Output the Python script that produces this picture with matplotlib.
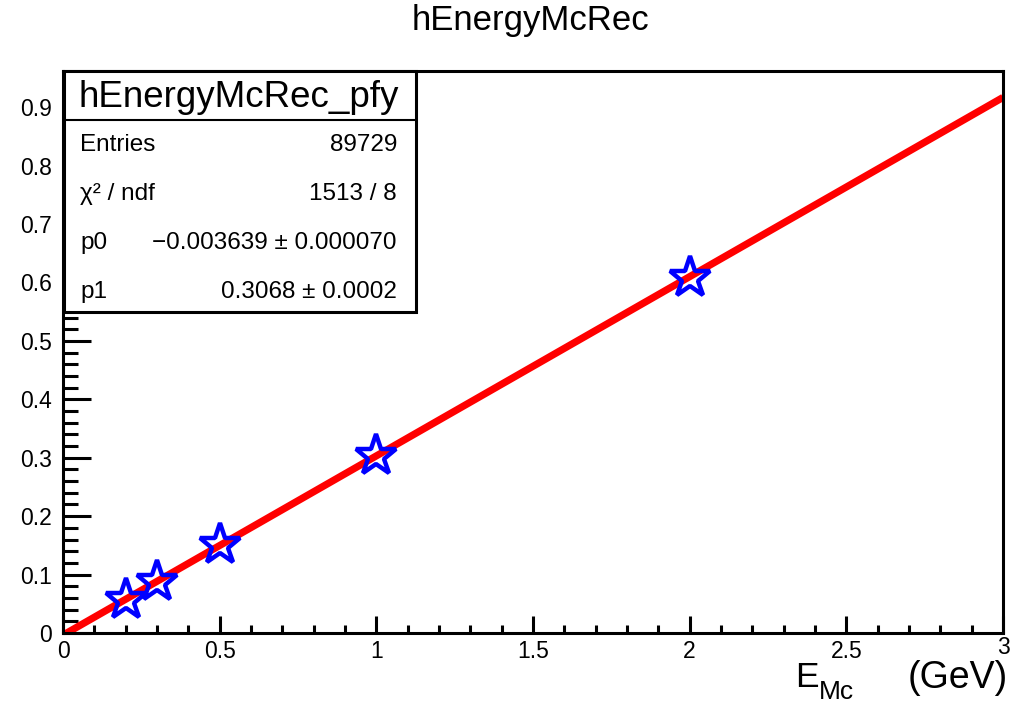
import matplotlib
matplotlib.use("Agg")
import matplotlib.pyplot as plt
import matplotlib.transforms as mtransforms
from matplotlib.patches import Rectangle
from matplotlib.ticker import FixedLocator, MultipleLocator
import numpy as np

plt.rcParams['font.family'] = ['Liberation Sans', 'DejaVu Sans']

# Profile points: true energy vs mean reconstructed energy
e_mc = [0.2, 0.3, 0.5, 1.0, 2.0]
e_rec = [0.057, 0.087, 0.150, 0.303, 0.608]

# Linear fit parameters
p0, p0_err = -0.003639, 0.000070
p1, p1_err = 0.3068, 0.0002
entries = 89729
chi2, ndf = 1513, 8

x_ticks = [0, 0.5, 1, 1.5, 2, 2.5, 3]
x_tick_labels = ["0", "0.5", "1", "1.5", "2", "2.5", "3"]
y_ticks = [0, 0.1, 0.2, 0.3, 0.4, 0.5, 0.6, 0.7, 0.8, 0.9]
y_tick_labels = ["0", "0.1", "0.2", "0.3", "0.4", "0.5", "0.6", "0.7", "0.8", "0.9"]

W, H = 1030, 705
fig = plt.figure(figsize=(W / 100, H / 100), dpi=100)

def fx(px):
    return px / W

def fy(py):
    return 1 - py / H

ax = fig.add_axes([fx(63), fy(633), fx(1003) - fx(63), fy(71) - fy(633)])
ax.set_xlim(0, 3)
ax.set_ylim(0, 0.962)

# Fit line
xf = np.linspace(0, 3, 200)
ax.plot(xf, p0 + p1 * xf, color='#ff0000', lw=5.2, solid_capstyle='butt', zorder=2)

# Open star markers
ax.plot(e_mc, e_rec, linestyle='none', marker='*', markersize=31,
        markerfacecolor='none', markeredgecolor='#0000ff', markeredgewidth=3.2, zorder=3)

for s in ax.spines.values():
    s.set_linewidth(2.2)

ax.xaxis.set_major_locator(FixedLocator(x_ticks))
ax.set_xticklabels(x_tick_labels)
ax.xaxis.set_minor_locator(MultipleLocator(0.1))
ax.yaxis.set_major_locator(FixedLocator(y_ticks))
ax.set_yticklabels(y_tick_labels)
ax.yaxis.set_minor_locator(MultipleLocator(0.02))

ax.tick_params(axis='x', which='major', direction='in', length=12, width=2.2,
               labelsize=16.5, pad=5, top=False)
ax.tick_params(axis='x', which='minor', direction='in', length=6, width=2.2, top=False)
ax.tick_params(axis='y', which='major', direction='in', length=20, width=2.2,
               labelsize=16.5, pad=8, right=False)
ax.tick_params(axis='y', which='minor', direction='in', length=11, width=2.2, right=False)

# The last x label sits slightly higher so it clears the unit text
last = ax.get_xticklabels()[-1]
last.set_transform(last.get_transform() +
                   mtransforms.ScaledTranslation(0, 4 / 100, fig.dpi_scale_trans))

# Title and axis label
fig.text(fx(530), fy(30), "hEnergyMcRec", ha='center', va='baseline', fontsize=25)
fig.text(fx(795), fy(687), "E", ha='left', va='baseline', fontsize=25.5)
fig.text(fx(819), fy(699), "Mc", ha='left', va='baseline', fontsize=19)
fig.text(fx(1008), fy(688), "(GeV)", ha='right', va='baseline', fontsize=27)

# Statistics box
bx0, by0, bx1, by1 = 64, 71, 416, 312
box = Rectangle((fx(bx0), fy(by1)), fx(bx1) - fx(bx0), fy(by0) - fy(by1),
                transform=fig.transFigure, facecolor='white', edgecolor='black',
                lw=2.2, zorder=10)
fig.add_artist(box)
fig.add_artist(plt.Line2D([fx(bx0), fx(bx1)], [fy(120), fy(120)],
                          transform=fig.transFigure, color='black', lw=1.5, zorder=11))
fig.text(fx(239), fy(107), "hEnergyMcRec_pfy", ha='center', va='baseline', fontsize=26.5,
         zorder=12)

rows = [
    ("Entries", f"{entries}", 151),
    ("\u03c7\u00b2 / ndf", f"{chi2} / {ndf}", 200),
    ("p0", f"\u2212{abs(p0):.6f} \u00b1 {p0_err:.6f}", 249),
    ("p1", f"{p1:.4f} \u00b1 {p1_err:.4f}", 298),
]
for left, right, y in rows:
    fig.text(fx(80), fy(y), left, ha='left', va='baseline', fontsize=17.5, zorder=12)
    fig.text(fx(397), fy(y), right, ha='right', va='baseline', fontsize=17.5, zorder=12)

fig.savefig("out.png", dpi=100)
